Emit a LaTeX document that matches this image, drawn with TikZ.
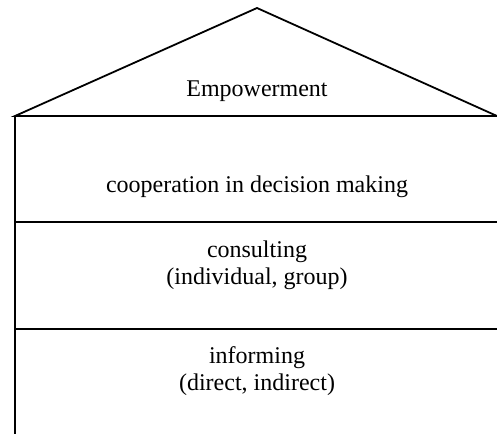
\documentclass[tikz,border=0pt]{standalone}
\usepackage{fontspec}
\setmainfont{Liberation Serif}

\begin{document}
\begin{tikzpicture}[x=0.5pt,y=-0.5pt,line width=0.9pt,
  level/.style={font=\fontsize{12}{13.6}\selectfont,align=center}]
\useasboundingbox (0,0) rectangle (497,434);

\coordinate (top) at (257,8);
\coordinate (eave west) at (15,116);
\coordinate (eave east) at (497,116);
\coordinate (floor1 west) at (15,222);
\coordinate (floor1 east) at (497,222);
\coordinate (floor2 west) at (15,329);
\coordinate (floor2 east) at (497,329);
\coordinate (ground west) at (15,434);

% roof
\draw (eave west) -- (top) -- (eave east) -- cycle;
% floors
\draw (eave west) -- (ground west);
\draw (floor1 west) -- (floor1 east);
\draw (floor2 west) -- (floor2 east);

\node[level,anchor=base] (empowerment) at (257,96) {Empowerment};
\node[level,anchor=base] (cooperation) at (257,192) {cooperation in decision making};
\node[level] (consulting) at (257,265) {consulting\\(individual, group)};
\node[level] (informing) at (257,371) {informing\\(direct, indirect)};

\end{tikzpicture}
\end{document}
